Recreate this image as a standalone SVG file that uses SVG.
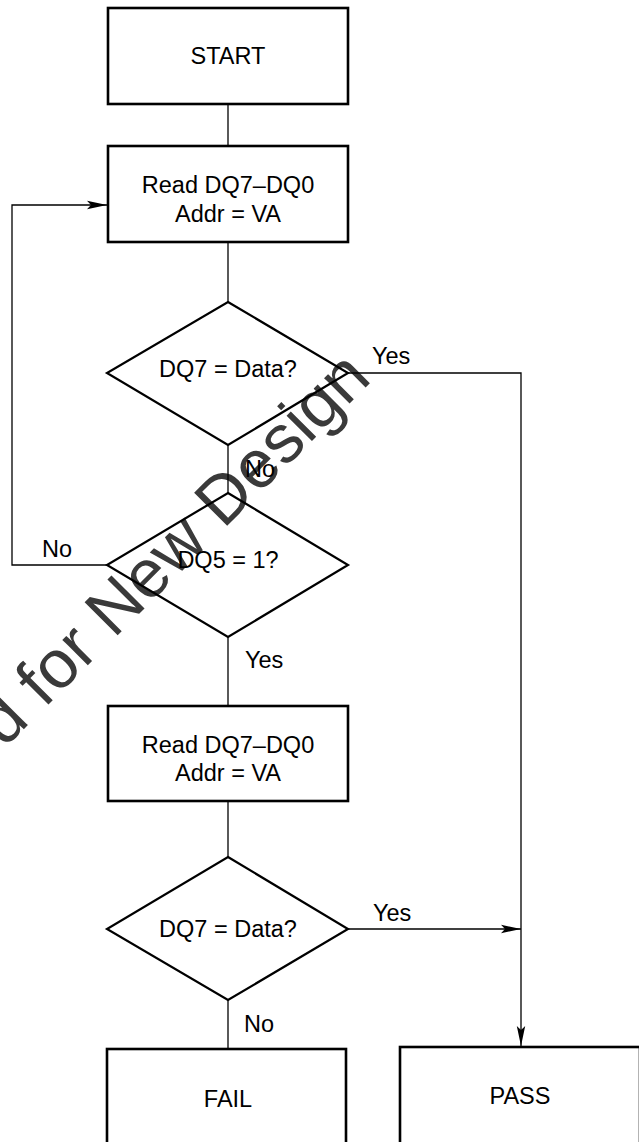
<svg xmlns="http://www.w3.org/2000/svg" width="639" height="1142" viewBox="0 0 639 1142">
  <style>
    .box { fill: none; stroke: #000; stroke-width: 2.6; }
    .dia { fill: none; stroke: #000; stroke-width: 2.2; stroke-linejoin: miter; }
    .conn { fill: none; stroke: #000; stroke-width: 1.3; }
    .t { font-family: "Liberation Sans", Arial, Helvetica, sans-serif; font-size: 23.5px; fill: #000; }
    .c { text-anchor: middle; }
    .wm { font-family: "Liberation Sans", Arial, Helvetica, sans-serif; font-size: 68px; fill: #3a3a3a; }
  </style>
  <defs>
    <marker id="arrow" markerUnits="userSpaceOnUse" markerWidth="20" markerHeight="10" refX="20" refY="5" orient="auto">
      <path d="M0,0.8 L20,5 L0,9.2 L4,5 z" fill="#000"/>
    </marker>
  </defs>
  <rect width="639" height="1142" fill="#fff"/>

  <text class="wm" text-anchor="end" transform="translate(373,380) rotate(-45)">Not Recommended for New Design</text>

  <g id="connectors">
    <path class="conn" d="M228,104 V146"/>
    <path class="conn" d="M228,242 V302"/>
    <path class="conn" d="M348,373 H521 V1046" marker-end="url(#arrow)"/>
    <path class="conn" d="M228,445 V493"/>
    <path class="conn" d="M107,565 H12 V205 H107" marker-end="url(#arrow)"/>
    <path class="conn" d="M228,637 V706"/>
    <path class="conn" d="M228,801 V857"/>
    <path class="conn" d="M348,929 H521" marker-end="url(#arrow)"/>
    <path class="conn" d="M228,1000 V1049"/>
    <text class="t" x="372" y="364">Yes</text>
    <text class="t" x="245" y="477">No</text>
    <text class="t" x="42" y="557">No</text>
    <text class="t" x="245" y="668">Yes</text>
    <text class="t" x="373" y="921">Yes</text>
    <text class="t" x="244" y="1032">No</text>
  </g>

  <g id="start">
    <rect class="box" x="108" y="8" width="240" height="96"/>
    <text class="t c" x="228" y="64">START</text>
  </g>
  <g id="read1">
    <rect class="box" x="108" y="146" width="240" height="96"/>
    <text class="t c" x="228" y="193">Read DQ7–DQ0</text>
    <text class="t c" x="228" y="222">Addr = VA</text>
  </g>
  <g id="check1">
    <polygon class="dia" points="228,302 348,373 228,445 107,373"/>
    <text class="t c" x="228" y="377">DQ7 = Data?</text>
  </g>
  <g id="check5">
    <polygon class="dia" points="228,493 348,565 228,637 107,565"/>
    <text class="t c" x="228" y="568">DQ5 = 1?</text>
  </g>
  <g id="read2">
    <rect class="box" x="108" y="706" width="240" height="95"/>
    <text class="t c" x="228" y="753">Read DQ7–DQ0</text>
    <text class="t c" x="228" y="781">Addr = VA</text>
  </g>
  <g id="check2">
    <polygon class="dia" points="228,857 348,929 228,1000 107,929"/>
    <text class="t c" x="228" y="937">DQ7 = Data?</text>
  </g>
  <g id="fail">
    <rect class="box" x="107" y="1049" width="239" height="110"/>
    <text class="t c" x="228" y="1107">FAIL</text>
  </g>
  <g id="pass">
    <rect class="box" x="400" y="1047" width="240" height="110"/>
    <text class="t c" x="520" y="1104">PASS</text>
  </g>
</svg>
